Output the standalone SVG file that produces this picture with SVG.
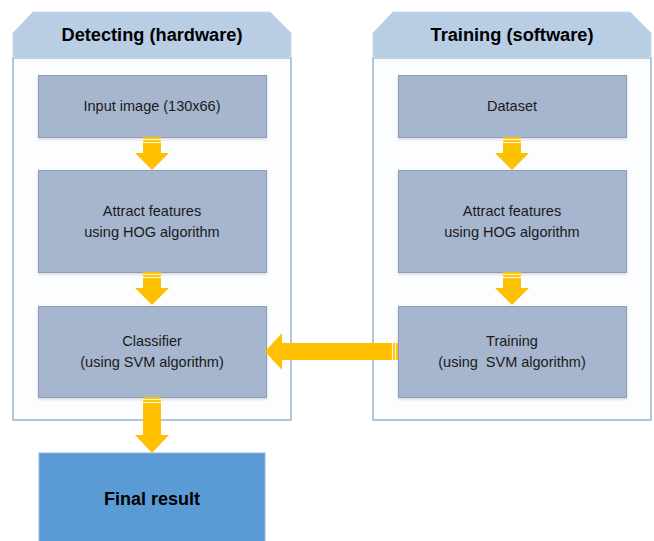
<svg xmlns="http://www.w3.org/2000/svg" width="654" height="541" viewBox="0 0 654 541">
<style>
.hdr{fill:#b9cde5;stroke:#c9d6e6;stroke-width:1}
.body{fill:#fcfdfe;stroke:#7ea0c9;stroke-width:1.2}
.box{fill:#a6b6cf;stroke:#8d9db9;stroke-width:1}
.fin{fill:#5b9bd5;stroke:#8fb5de;stroke-width:1}
.t{font-family:"Liberation Sans",Arial,sans-serif;font-size:14.5px;fill:#1a1a1a;text-anchor:middle}
.h{font-family:"Liberation Sans",Arial,sans-serif;font-size:18px;font-weight:bold;fill:#000;text-anchor:middle}
.arr{fill:#ffc000}
.st{stroke:#fff6d0;stroke-width:1.2}
</style>
<defs>
<filter id="sh" x="-5%" y="-5%" width="110%" height="115%"><feDropShadow dx="0" dy="1.5" stdDeviation="1.5" flood-color="#000" flood-opacity="0.15"/></filter>
</defs>
<g id="detecting">
<rect class="body" x="13" y="58" width="278" height="362"/>
<path class="hdr" d="M33,12 H270 L291,33 V58 H13 V33 Z"/>
<text class="h" x="152" y="41" textLength="181" lengthAdjust="spacingAndGlyphs">Detecting (hardware)</text>
</g>
<g id="training-group">
<rect class="body" x="373" y="58" width="278" height="362"/>
<path class="hdr" d="M393,12 H630 L651,33 V58 H373 V33 Z"/>
<text class="h" x="512" y="41" textLength="163" lengthAdjust="spacingAndGlyphs">Training (software)</text>
</g>
<g id="input">
<rect class="box" filter="url(#sh)" x="38.5" y="75.5" width="228" height="62"/>
<text class="t" x="152" y="111">Input image (130x66)</text>
</g>
<g id="attract-left">
<rect class="box" filter="url(#sh)" x="38.5" y="170.5" width="228" height="102"/>
<text class="t" x="152" y="216">Attract features</text>
<text class="t" x="152" y="237">using HOG algorithm</text>
</g>
<g id="classifier">
<rect class="box" filter="url(#sh)" x="38.5" y="306.5" width="228" height="91"/>
<text class="t" x="152" y="346">Classifier</text>
<text class="t" x="152" y="367">(using SVM algorithm)</text>
</g>
<g id="dataset">
<rect class="box" filter="url(#sh)" x="398.5" y="75.5" width="228" height="62"/>
<text class="t" x="512" y="111">Dataset</text>
</g>
<g id="attract-right">
<rect class="box" filter="url(#sh)" x="398.5" y="170.5" width="228" height="102"/>
<text class="t" x="512" y="216">Attract features</text>
<text class="t" x="512" y="237">using HOG algorithm</text>
</g>
<g id="training">
<rect class="box" filter="url(#sh)" x="398.5" y="306.5" width="228" height="91"/>
<text class="t" x="512" y="346">Training</text>
<text class="t" x="512" y="367" xml:space="preserve">(using  SVM algorithm)</text>
</g>
<g id="final">
<rect class="fin" x="39" y="453" width="226" height="95"/>
<text class="h" x="152" y="505">Final result</text>
</g>
<g id="connectors">
<path class="arr" d="M143,137 H161 V153 H169 L152,170 L135,153 H143 Z"/>
<line class="st" x1="143" y1="139.5" x2="161" y2="139.5"/><line class="st" x1="143" y1="142.5" x2="161" y2="142.5"/>
<path class="arr" d="M143,272 H161 V288 H169 L152,305 L135,288 H143 Z"/>
<line class="st" x1="143" y1="274.5" x2="161" y2="274.5"/><line class="st" x1="143" y1="277.5" x2="161" y2="277.5"/>
<path class="arr" d="M503,137 H521 V153 H529 L512,170 L495,153 H503 Z"/>
<line class="st" x1="503" y1="139.5" x2="521" y2="139.5"/><line class="st" x1="503" y1="142.5" x2="521" y2="142.5"/>
<path class="arr" d="M503,272 H521 V288 H529 L512,305 L495,288 H503 Z"/>
<line class="st" x1="503" y1="274.5" x2="521" y2="274.5"/><line class="st" x1="503" y1="277.5" x2="521" y2="277.5"/>
<path class="arr" d="M143,397 H161 V435 H169 L152,453 L135,435 H143 Z"/>
<line class="st" x1="143" y1="399.5" x2="161" y2="399.5"/><line class="st" x1="143" y1="402.5" x2="161" y2="402.5"/>
<path class="arr" d="M398,343 V360 H282 V370 L265,351.5 L282,333 V343 Z"/>
<line class="st" x1="395.5" y1="343" x2="395.5" y2="360"/><line class="st" x1="392.5" y1="343" x2="392.5" y2="360"/>
</g>
</svg>
